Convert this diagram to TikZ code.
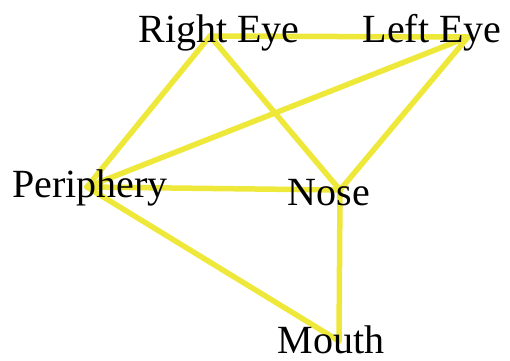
\documentclass[tikz,border=0pt]{standalone}
\usepackage{fontspec}
\setmainfont{Liberation Serif}
\definecolor{edgeyellow}{RGB}{238,232,58}
\begin{document}
\begin{tikzpicture}[x=1pt,y=-1pt,
  lbl/.style={anchor=base,inner sep=0pt,font=\fontsize{40}{40}\selectfont},
  edge/.style={draw=edgeyellow,line width=5.5pt,line cap=round,line join=round}]
\useasboundingbox (0,0) rectangle (510,360);
\coordinate (re) at (210,36);
\coordinate (le) at (468,37);
\coordinate (pe) at (87,187);
\coordinate (no) at (340,190);
\coordinate (mo) at (339,341);
\draw[edge] (re) -- (le);
\draw[edge] (re) -- (pe);
\draw[edge] (re) -- (no);
\draw[edge] (le) -- (pe);
\draw[edge] (le) -- (no);
\draw[edge] (pe) -- (no);
\draw[edge] (pe) -- (mo);
\draw[edge] (no) -- (mo);
\node[lbl] (reT) at (219,42) {Right Eye};
\node[lbl] (leT) at (432,42) {Left Eye};
\node[lbl] (peT) at (90,197) {Periphery};
\node[lbl] (noT) at (329,205) {Nose};
\node[lbl] (moT) at (331,353) {Mouth};
\end{tikzpicture}
\end{document}
